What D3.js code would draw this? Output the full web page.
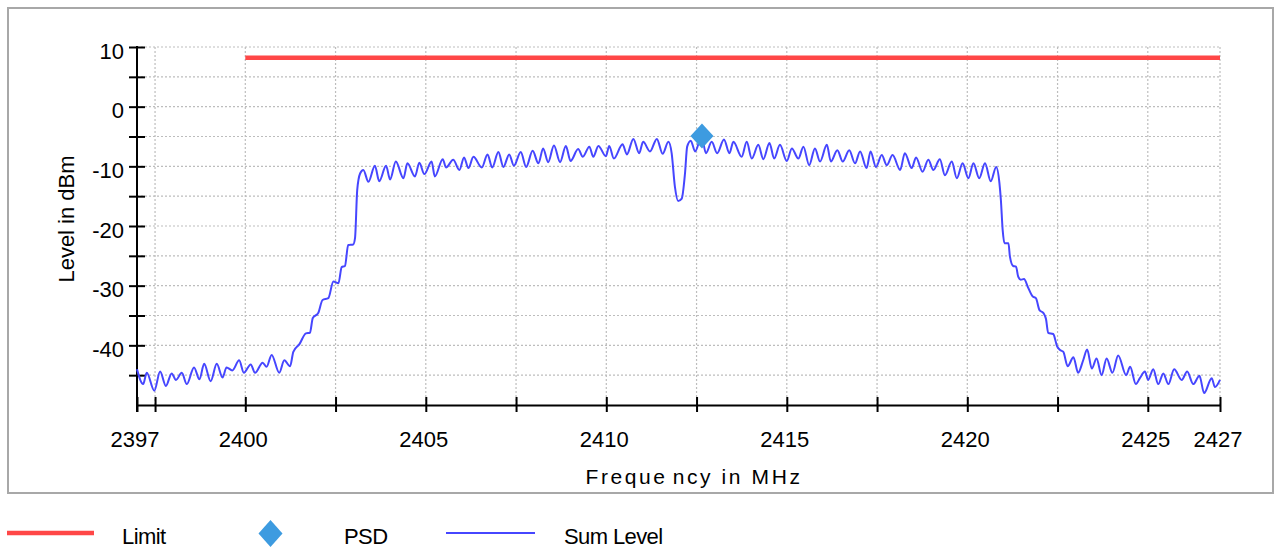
<!DOCTYPE html>
<html>
<head>
<meta charset="utf-8">
<script src="https://cdn.jsdelivr.net/npm/d3@7"></script>
<style>
  html, body { margin: 0; padding: 0; background: #ffffff; }
  svg { display: block; font-family: "Liberation Sans", Arial, sans-serif; }
</style>
</head>
<body>
<svg id="chart" width="1280" height="550"></svg>
<script>
// ---------------- data ----------------
const sumFreq = [
  2397.00,2397.17,2397.27,2397.48,2397.64,2397.80,2397.96,2398.08,2398.24,2398.38,
  2398.58,2398.73,2398.86,2399.04,2399.21,2399.37,2399.48,2399.64,2399.83,2399.96,
  2400.15,2400.27,2400.48,2400.59,2400.73,2400.94,2401.08,2401.24,2401.33,2401.50,
  2401.68,2401.79,2401.87,2402.02,2402.14,2402.30,2402.44,2402.58,2402.67,2402.76,
  2402.85,2402.99,2403.04,2403.10,2403.18,2403.27,2403.41,2403.59,2403.71,2403.90,
  2404.01,2404.17,2404.38,2404.49,2404.70,2404.82,2404.96,2405.16,2405.25,2405.47,
  2405.56,2405.76,2405.93,2406.06,2406.18,2406.32,2406.55,2406.71,2406.84,2407.01,
  2407.15,2407.31,2407.44,2407.63,2407.78,2407.96,2408.12,2408.25,2408.39,2408.55,
  2408.72,2408.88,2409.01,2409.22,2409.35,2409.53,2409.64,2409.78,2409.99,2410.08,
  2410.21,2410.45,2410.57,2410.75,2410.91,2411.02,2411.21,2411.40,2411.56,2411.72,
  2411.81,2411.90,2411.99,2412.09,2412.18,2412.24,2412.34,2412.46,2412.64,2412.76,
  2412.92,2413.07,2413.26,2413.41,2413.52,2413.75,2413.89,2414.03,2414.21,2414.35,
  2414.52,2414.65,2414.81,2415.00,2415.14,2415.32,2415.46,2415.62,2415.78,2415.92,
  2416.11,2416.22,2416.40,2416.55,2416.73,2416.89,2417.03,2417.21,2417.32,2417.47,
  2417.63,2417.77,2417.93,2418.14,2418.27,2418.46,2418.58,2418.76,2418.92,2419.06,
  2419.24,2419.38,2419.57,2419.71,2419.87,2420.03,2420.17,2420.33,2420.49,2420.65,
  2420.80,2420.89,2420.93,2420.98,2421.03,2421.14,2421.18,2421.27,2421.35,2421.41,
  2421.48,2421.57,2421.69,2421.81,2421.90,2422.00,2422.11,2422.18,2422.24,2422.38,
  2422.49,2422.57,2422.66,2422.78,2422.94,2423.07,2423.21,2423.32,2423.45,2423.58,
  2423.72,2423.86,2424.02,2424.18,2424.40,2424.51,2424.67,2424.78,2424.92,2425.01,
  2425.15,2425.29,2425.43,2425.57,2425.73,2425.94,2426.09,2426.26,2426.43,2426.56,
  2426.77,2426.86,2427.00
];
const sumLevel = [
  -44.0,-46.5,-44.6,-47.6,-44.4,-46.8,-44.7,-45.8,-44.6,-46.5,
  -43.7,-45.7,-43.1,-46.0,-43.1,-45.4,-43.7,-44.2,-42.5,-44.6,
  -43.2,-44.6,-42.9,-43.6,-41.6,-44.6,-42.5,-43.5,-41.1,-39.8,
  -38.0,-37.9,-35.4,-34.6,-32.4,-32.1,-29.3,-29.6,-26.9,-26.7,
  -23.2,-23.1,-22.0,-14.0,-11.2,-10.6,-12.6,-9.9,-12.5,-9.9,
  -12.2,-9.2,-12.0,-9.5,-11.7,-9.4,-11.3,-9.2,-11.7,-8.8,
  -10.2,-8.9,-10.6,-8.5,-10.3,-8.4,-10.2,-8.0,-10.2,-7.6,
  -10.1,-8.0,-9.9,-7.6,-10.1,-7.4,-9.5,-7.0,-9.3,-6.5,
  -9.3,-6.6,-9.1,-7.1,-8.4,-6.7,-8.4,-6.6,-8.3,-6.6,
  -8.7,-6.3,-8.0,-5.4,-7.8,-5.9,-7.5,-5.4,-7.9,-5.9,
  -7.8,-13.4,-15.8,-15.4,-11.2,-6.7,-5.7,-7.5,-5.0,-7.8,
  -5.9,-7.8,-5.5,-7.8,-5.9,-8.4,-5.9,-8.7,-6.4,-8.8,
  -6.1,-8.7,-6.4,-9.1,-7.0,-8.7,-6.7,-9.8,-7.0,-9.2,
  -6.4,-9.2,-7.3,-9.2,-7.3,-9.5,-7.5,-10.3,-7.5,-10.1,
  -8.1,-9.8,-8.1,-10.6,-7.8,-10.3,-8.5,-10.9,-8.9,-10.6,
  -8.8,-11.5,-9.2,-12.0,-9.5,-12.0,-9.5,-12.0,-9.5,-12.5,
  -10.1,-12.8,-15.6,-20.7,-22.9,-22.9,-25.1,-26.7,-26.8,-28.5,
  -29.0,-28.9,-30.4,-31.8,-32.1,-34.1,-34.6,-35.6,-37.9,-38.1,
  -40.2,-40.8,-41.1,-43.5,-42.0,-44.6,-42.5,-40.7,-43.9,-42.2,
  -45.0,-42.2,-44.6,-41.7,-45.0,-43.6,-46.5,-45.5,-44.4,-45.8,
  -44.0,-46.5,-44.7,-46.5,-44.0,-45.8,-44.4,-46.5,-45.1,-48.0,
  -45.5,-47.0,-45.8
];
const limitFreq = [2400, 2427];
const limitLevel = [8.2, 8.2];
const psdFreq = [2412.65];
const psdLevel = [-4.9];

const xTickValues = [2397, 2400, 2405, 2410, 2415, 2420, 2425, 2427];
const xTickLabels = ["2397", "2400", "2405", "2410", "2415", "2420", "2425", "2427"];
const xMinorTicks = [2397.5, 2402.5, 2407.5, 2412.5, 2417.5, 2422.5];
const xGridValues = [2397.5, 2400, 2402.5, 2405, 2407.5, 2410, 2412.5, 2415, 2417.5, 2420, 2422.5, 2425, 2427];
const yTickValues = [10, 0, -10, -20, -30, -40];
const yTickLabels = ["10", "0", "-10", "-20", "-30", "-40"];
const yMinorTicks = [5, -5, -15, -25, -35, -45];
const yGridValues = [10, 5, 0, -5, -10, -15, -20, -25, -30, -35, -40, -45];

const legendNames = ["Limit", "PSD", "Sum Level"];
const colors = { limit: "#ff4747", psd: "#3d9be0", sum: "#4646ff" };

// ---------------- drawing ----------------
const svg = d3.select("#chart");
const x = d3.scaleLinear().domain([2397, 2427]).range([137, 1220]);
const y = d3.scaleLinear().domain([-50, 10]).range([405, 47]);

// outer frame
svg.append("rect").attr("x", 8).attr("y", 8).attr("width", 1265).attr("height", 485)
  .attr("fill", "#ffffff").attr("stroke", "#a8a8a8").attr("stroke-width", 2);

// grid
const grid = svg.append("g").attr("stroke", "#bdbdbd").attr("stroke-width", 1.2)
  .attr("stroke-dasharray", "2,2").attr("fill", "none");
grid.selectAll("line.h").data(yGridValues).join("line").attr("class", "h")
  .attr("x1", x(2397)).attr("x2", x(2427))
  .attr("y1", d => y(d)).attr("y2", d => y(d));
grid.selectAll("line.v").data(xGridValues).join("line").attr("class", "v")
  .attr("x1", d => x(d)).attr("x2", d => x(d))
  .attr("y1", y(10)).attr("y2", y(-50));

// x axis
const allX = xTickValues.concat(xMinorTicks);
const xAxis = d3.axisBottom(x).tickValues(allX).tickSize(0)
  .tickFormat(d => { const i = xTickValues.indexOf(d); return i >= 0 ? xTickLabels[i] : ""; });
const gx = svg.append("g").attr("transform", `translate(0,${y(-50)})`).call(xAxis);
gx.select(".domain").attr("stroke", "#000").attr("stroke-width", 2);
gx.selectAll(".tick line").attr("y1", -8).attr("y2", 7).attr("stroke", "#000").attr("stroke-width", 2);
gx.selectAll(".tick text").attr("y", 0).attr("dy", 0).attr("transform", "translate(-2.5,41.5)")
  .attr("font-size", 22).attr("fill", "#000").attr("font-family", "Liberation Sans, Arial, sans-serif");

// y axis
const allY = yTickValues.concat(yMinorTicks);
const yAxis = d3.axisLeft(y).tickValues(allY).tickSize(0)
  .tickFormat(d => { const i = yTickValues.indexOf(d); return i >= 0 ? yTickLabels[i] : ""; });
const gy = svg.append("g").attr("transform", `translate(${x(2397)},0)`).call(yAxis);
gy.select(".domain").remove();
gy.append("line").attr("x1", 0).attr("x2", 0).attr("y1", y(10) - 1).attr("y2", y(-50) + 7)
  .attr("stroke", "#000").attr("stroke-width", 2);
gy.selectAll(".tick line").attr("x1", -8).attr("x2", 8).attr("stroke", "#000").attr("stroke-width", 2);
gy.selectAll(".tick text").attr("x", -13).attr("dy", 0).attr("transform", "translate(0,11)")
  .attr("font-size", 22).attr("fill", "#000").attr("font-family", "Liberation Sans, Arial, sans-serif");

// axis titles
svg.append("text").attr("transform", "translate(73.5,219) rotate(-90)")
  .attr("text-anchor", "middle").attr("font-size", 22).attr("fill", "#000")
  .text("Level in dBm");
const xt = svg.append("text").attr("x", 694).attr("y", 483.5)
  .attr("text-anchor", "middle").attr("font-size", 21).attr("fill", "#000")
  .attr("letter-spacing", "2.6px");
xt.append("tspan").text("Freque");
xt.append("tspan").attr("dx", 5).text("ncy in MHz");

// limit line
const limitData = limitFreq.map((f, i) => [f, limitLevel[i]]);
svg.append("path").datum(limitData)
  .attr("d", d3.line().x(d => x(d[0])).y(d => y(d[1])))
  .attr("fill", "none").attr("stroke", colors.limit).attr("stroke-width", 4.5);

// sum level line
const sumData = sumFreq.map((f, i) => [f, sumLevel[i]]);
svg.append("path").datum(sumData)
  .attr("d", d3.line().x(d => x(d[0])).y(d => y(d[1])).curve(d3.curveMonotoneX))
  .attr("fill", "none").attr("stroke", colors.sum).attr("stroke-width", 2)
  .attr("stroke-linejoin", "round");

// PSD marker
const diamond = (cx, cy, w, h) => `M${cx},${cy - h / 2}L${cx + w / 2},${cy}L${cx},${cy + h / 2}L${cx - w / 2},${cy}Z`;
svg.selectAll("path.psd").data(psdFreq.map((f, i) => [f, psdLevel[i]])).join("path")
  .attr("class", "psd")
  .attr("d", d => diamond(x(d[0]), y(d[1]), 23, 25))
  .attr("fill", colors.psd);

// legend
const lg = svg.append("g");
lg.append("line").attr("x1", 7).attr("x2", 94).attr("y1", 533).attr("y2", 533)
  .attr("stroke", colors.limit).attr("stroke-width", 4.5);
lg.append("path").attr("d", diamond(270.5, 533.5, 24, 27)).attr("fill", colors.psd);
lg.append("line").attr("x1", 446).attr("x2", 535).attr("y1", 533).attr("y2", 533)
  .attr("stroke", colors.sum).attr("stroke-width", 2);
const legendX = [122, 344, 564];
lg.selectAll("text").data(legendNames).join("text")
  .attr("x", (d, i) => legendX[i]).attr("y", 544)
  .attr("font-size", 22).attr("fill", "#000").attr("letter-spacing", "-0.6px")
  .text(d => d);
</script>
</body>
</html>
